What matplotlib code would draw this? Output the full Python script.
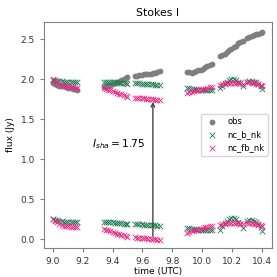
import matplotlib
matplotlib.use('Agg')
import matplotlib.pyplot as plt

# time axis, six observing blocks
time = [9.00, 9.015, 9.03, 9.045, 9.06, 9.075, 9.09, 9.105, 9.12, 9.135, 9.15, 9.165,
        9.34, 9.355, 9.37, 9.385, 9.40, 9.415, 9.43, 9.445, 9.46, 9.475, 9.49, 9.50,
        9.55, 9.565, 9.58, 9.595, 9.61, 9.625, 9.64, 9.655, 9.67, 9.685, 9.70, 9.715,
        9.90, 9.915, 9.93, 9.945, 9.96, 9.975, 9.99, 10.005, 10.02, 10.035, 10.05, 10.065,
        10.12, 10.135, 10.15, 10.165, 10.18, 10.195, 10.21, 10.225, 10.24, 10.255, 10.27,
        10.30, 10.315, 10.33, 10.345, 10.36, 10.375, 10.39, 10.40]

obs = [1.95, 1.94, 1.93, 1.92, 1.91, 1.91, 1.90, 1.89, 1.89, 1.88, 1.88, 1.87,
       1.90, 1.91, 1.92, 1.93, 1.94, 1.95, 1.96, 1.97, 1.99, 2.00, 2.02, 2.03,
       2.04, 2.04, 2.05, 2.05, 2.06, 2.06, 2.07, 2.07, 2.08, 2.08, 2.09, 2.10,
       2.09, 2.09, 2.08, 2.09, 2.10, 2.11, 2.12, 2.13, 2.15, 2.16, 2.18, 2.19,
       2.29, 2.30, 2.32, 2.34, 2.36, 2.38, 2.40, 2.42, 2.45, 2.47, 2.48,
       2.52, 2.53, 2.54, 2.55, 2.56, 2.57, 2.58, 2.59]

nc_b_nk = [1.99, 1.99, 1.98, 1.98, 1.98, 1.97, 1.97, 1.97, 1.96, 1.96, 1.96, 1.96,
           1.97, 1.97, 1.97, 1.96, 1.96, 1.96, 1.96, 1.95, 1.95, 1.95, 1.95, 1.94,
           1.95, 1.95, 1.95, 1.94, 1.94, 1.94, 1.94, 1.94, 1.94, 1.93, 1.93, 1.93,
           1.89, 1.89, 1.88, 1.88, 1.88, 1.87, 1.87, 1.87, 1.87, 1.87, 1.86, 1.86,
           1.89, 1.92, 1.95, 1.97, 1.99, 2.00, 2.00, 1.99, 1.97, 1.95, 1.91,
           1.97, 1.98, 1.98, 1.97, 1.96, 1.94, 1.91, 1.88]

nc_fb_nk = [2.00, 1.98, 1.96, 1.94, 1.93, 1.92, 1.91, 1.91, 1.90, 1.90, 1.89, 1.89,
            1.89, 1.88, 1.87, 1.86, 1.85, 1.84, 1.83, 1.82, 1.81, 1.80, 1.79, 1.78,
            1.77, 1.77, 1.76, 1.76, 1.76, 1.75, 1.75, 1.75, 1.75, 1.74, 1.74, 1.74,
            1.83, 1.84, 1.84, 1.85, 1.86, 1.86, 1.87, 1.88, 1.88, 1.89, 1.90, 1.90,
            1.93, 1.94, 1.94, 1.95, 1.95, 1.95, 1.95, 1.95, 1.95, 1.95, 1.94,
            1.96, 1.96, 1.95, 1.95, 1.94, 1.94, 1.93, 1.92]

# lower set (shadow-subtracted)
nc_b_nk_low = [0.25, 0.24, 0.24, 0.23, 0.23, 0.22, 0.22, 0.22, 0.21, 0.21, 0.21, 0.21,
               0.22, 0.22, 0.21, 0.21, 0.21, 0.20, 0.20, 0.20, 0.20, 0.19, 0.19, 0.19,
               0.19, 0.19, 0.19, 0.19, 0.18, 0.18, 0.18, 0.18, 0.18, 0.18, 0.17, 0.17,
               0.14, 0.14, 0.13, 0.13, 0.13, 0.12, 0.12, 0.12, 0.12, 0.12, 0.11, 0.11,
               0.12, 0.16, 0.20, 0.23, 0.25, 0.27, 0.27, 0.25, 0.22, 0.19, 0.14,
               0.23, 0.24, 0.24, 0.23, 0.22, 0.19, 0.15, 0.10]

nc_fb_nk_low = [0.25, 0.23, 0.21, 0.19, 0.18, 0.17, 0.16, 0.16, 0.15, 0.15, 0.15, 0.15,
                0.13, 0.12, 0.11, 0.10, 0.09, 0.08, 0.07, 0.06, 0.05, 0.05, 0.04, 0.03,
                0.03, 0.02, 0.02, 0.01, 0.01, 0.01, 0.00, 0.00, 0.00, 0.00, -0.01, -0.01,
                0.08, 0.09, 0.10, 0.11, 0.12, 0.12, 0.13, 0.14, 0.15, 0.15, 0.16, 0.17,
                0.18, 0.19, 0.19, 0.20, 0.20, 0.20, 0.20, 0.20, 0.20, 0.19, 0.19,
                0.20, 0.20, 0.20, 0.19, 0.19, 0.18, 0.18, 0.17]

i_sha = 1.75
t_sha = 9.67

green = '#1f7a50'
pink = '#e42a86'
grey = '#7f7f7f'

plt.rcParams['font.size'] = 6.5
plt.rcParams['axes.edgecolor'] = '#808080'
plt.rcParams['xtick.color'] = '#808080'
plt.rcParams['ytick.color'] = '#808080'
plt.rcParams['xtick.labelcolor'] = '#333333'
plt.rcParams['ytick.labelcolor'] = '#333333'
plt.rcParams['xtick.major.size'] = 3
plt.rcParams['ytick.major.size'] = 3

fig = plt.figure(figsize=(2.77, 2.77), dpi=100)
# axes box: x 44..272 px, y 22..248 px
ax = fig.add_axes([0.159, 0.105, 0.823, 0.816])

ax.scatter(time, obs, s=10, color=grey, label='obs', zorder=2)
ax.scatter(time, nc_b_nk, s=16, marker='x', color=green, linewidths=0.6, label='nc_b_nk', zorder=3)
ax.scatter(time, nc_fb_nk, s=16, marker='x', color=pink, linewidths=0.6, label='nc_fb_nk', zorder=4)
ax.scatter(time, nc_b_nk_low, s=16, marker='x', color=green, linewidths=0.6, zorder=3)
ax.scatter(time, nc_fb_nk_low, s=16, marker='x', color=pink, linewidths=0.6, zorder=4)

ax.annotate('', xy=(t_sha, i_sha), xytext=(t_sha, 0.0),
            arrowprops=dict(arrowstyle='->', color='#444444', lw=1.0))
ax.text(9.26, 1.15, '$I_{sha} = %.2f$' % i_sha, fontsize=7.7, va='baseline', ha='left')

ax.set_xlim(8.942, 10.467)
ax.set_ylim(-0.11, 2.716)
ax.set_xticks([9.0, 9.2, 9.4, 9.6, 9.8, 10.0, 10.2, 10.4])
ax.set_yticks([0.0, 0.5, 1.0, 1.5, 2.0, 2.5])
ax.set_xlabel('time (UTC)', labelpad=1)
ax.set_ylabel('flux (Jy)', labelpad=4)
ax.set_title('Stokes I', pad=4)

ax.legend(loc='center right', fontsize=6)

fig.savefig('out.png', dpi=100)
